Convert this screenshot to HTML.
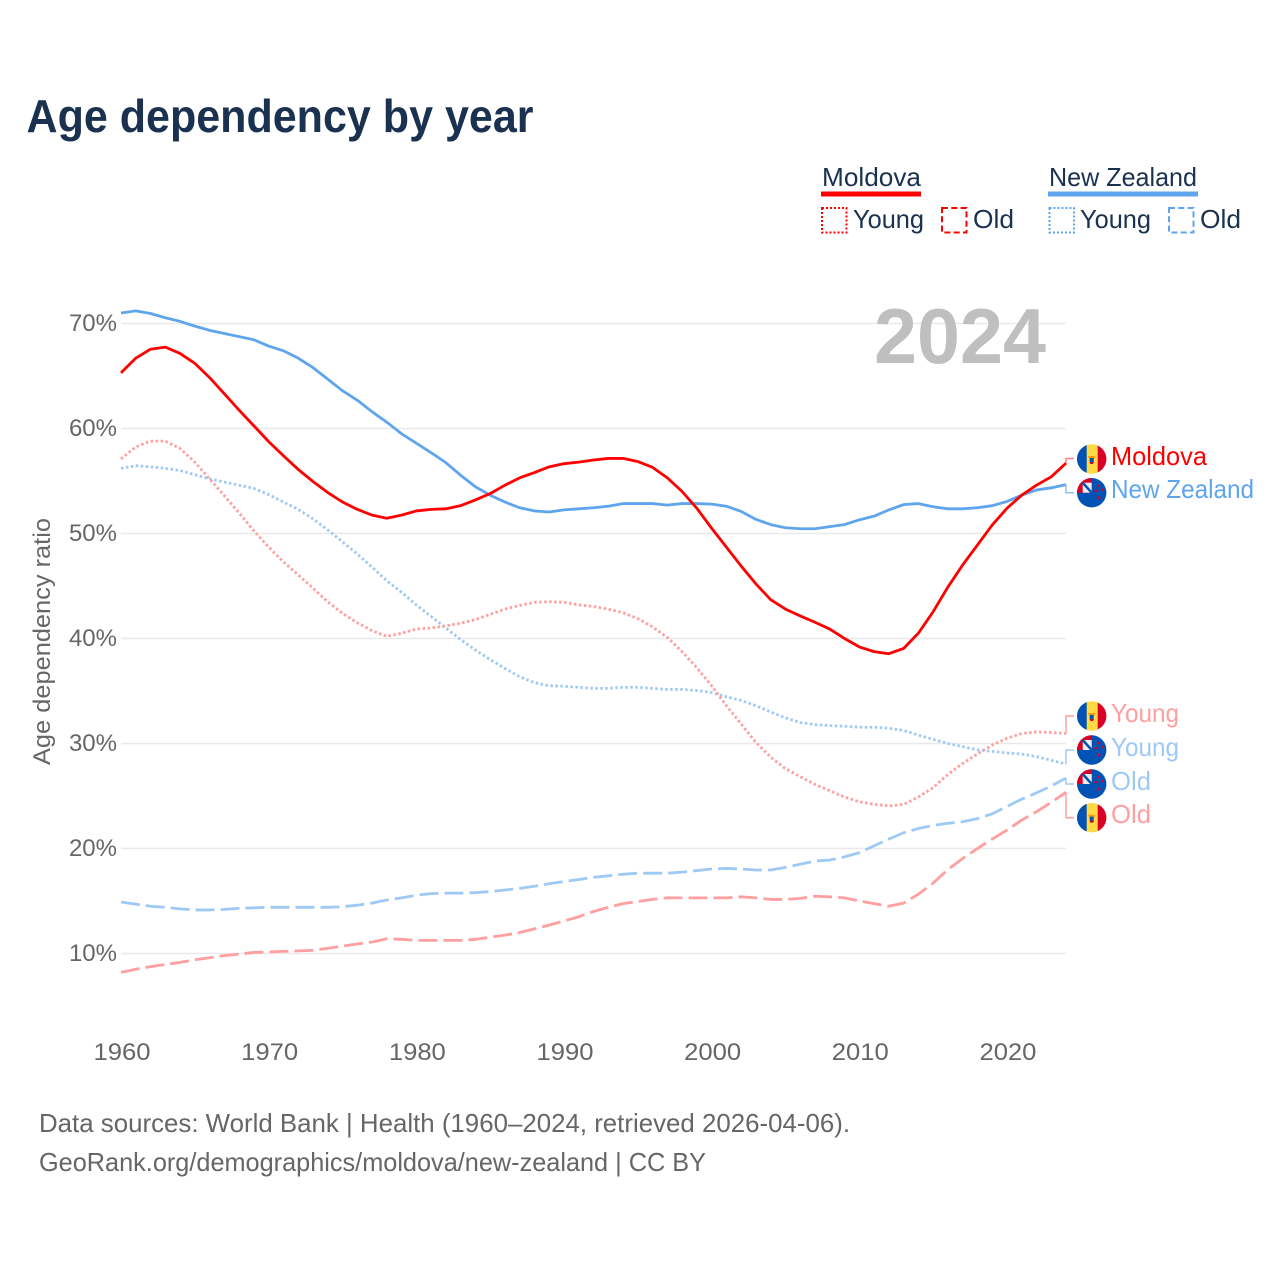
<!DOCTYPE html>
<html lang="en">
<head>
<meta charset="utf-8">
<title>Age dependency by year</title>
<style>
html,body{margin:0;padding:0;background:#fff;}
svg{display:block;}
text{font-family:"Liberation Sans",sans-serif;}
</style>
</head>
<body>
<svg id="chart" xmlns="http://www.w3.org/2000/svg" width="1280" height="1280" viewBox="0 0 1280 1280">
  <defs>
    <clipPath id="flag-clip"><circle cx="0" cy="0" r="14.7"/></clipPath>
    <g id="flag-md" clip-path="url(#flag-clip)">
      <rect x="-15" y="-15" width="30" height="30" fill="#ffda44"/>
      <rect x="-15" y="-15" width="10" height="30" fill="#0052b4"/>
      <rect x="6" y="-15" width="10" height="30" fill="#d80027"/>
      <path d="M-4,-3 L4,-3 L2,0 L-2,0 Z" fill="#ff9811"/>
      <rect x="-2" y="-1" width="4" height="5" fill="#0052b4"/>
      <rect x="-1.5" y="3" width="3" height="2" fill="#d80027"/>
    </g>
    <g id="flag-nz" clip-path="url(#flag-clip)">
      <rect x="-15" y="-15" width="30" height="30" fill="#0052b4"/>
      <rect x="-15" y="-15" width="15" height="15" fill="#d80027"/>
      <rect x="-9" y="-10" width="9" height="10" fill="#f0f0f0"/>
      <path d="M-9,-10 L0,0" stroke="#0052b4" stroke-width="2.5"/>
      <circle cx="7" cy="-7" r="1.3" fill="#d80027"/>
      <circle cx="11" cy="-3" r="1.3" fill="#d80027"/>
      <circle cx="4" cy="-2" r="1.3" fill="#d80027"/>
      <circle cx="7" cy="5" r="1.6" fill="#d80027"/>
    </g>
  </defs>

  <text x="26.5" y="132" font-size="46" font-weight="700" fill="#1a3150" textLength="507" lengthAdjust="spacingAndGlyphs">Age dependency by year</text>

  <g>
    <g>
      <text x="822" y="186" font-size="26" fill="#1a3150" textLength="99" lengthAdjust="spacingAndGlyphs">Moldova</text>
      <rect x="821" y="191.5" width="100" height="5" fill="#ff0000"/>
      <rect x="822" y="208" width="24.5" height="24.5" fill="none" stroke="#ff0000" stroke-width="2" stroke-dasharray="2 2"/>
      <text x="853" y="228" font-size="26" fill="#1a3150" textLength="71" lengthAdjust="spacingAndGlyphs">Young</text>
      <rect x="942" y="208" width="24.5" height="24.5" fill="none" stroke="#ff0000" stroke-width="2" stroke-dasharray="6 3.3"/>
      <text x="973" y="228" font-size="26" fill="#1a3150" textLength="41" lengthAdjust="spacingAndGlyphs">Old</text>
    </g>
    <g>
      <text x="1049" y="186" font-size="26" fill="#1a3150" textLength="148" lengthAdjust="spacingAndGlyphs">New Zealand</text>
      <rect x="1048" y="191.5" width="150" height="5" fill="#5fa5ee"/>
      <rect x="1049.5" y="208" width="24.5" height="24.5" fill="none" stroke="#5fa5ee" stroke-width="2" stroke-dasharray="2 2"/>
      <text x="1080" y="228" font-size="26" fill="#1a3150" textLength="71" lengthAdjust="spacingAndGlyphs">Young</text>
      <rect x="1169" y="208" width="24.5" height="24.5" fill="none" stroke="#5fa5ee" stroke-width="2" stroke-dasharray="6 3.3"/>
      <text x="1200" y="228" font-size="26" fill="#1a3150" textLength="41" lengthAdjust="spacingAndGlyphs">Old</text>
    </g>
  </g>

  <g id="grid"></g>
  <g id="y-ticks"></g>
  <g id="x-ticks"></g>
  <text transform="translate(50,765) rotate(-90)" x="0" y="0" font-size="24" fill="#666666" textLength="247" lengthAdjust="spacingAndGlyphs">Age dependency ratio</text>
  <text x="874" y="363" font-size="78" font-weight="700" fill="#bfbfbf" textLength="172" lengthAdjust="spacingAndGlyphs">2024</text>

  <g id="series"></g>
  <g id="connectors"></g>

  <g>
    <use href="#flag-md" x="1091.7" y="459"/>
    <text x="1111" y="465" font-size="26" fill="#ff0000" textLength="96" lengthAdjust="spacingAndGlyphs">Moldova</text>
    <use href="#flag-nz" x="1091.7" y="492.7"/>
    <text x="1111" y="498" font-size="26" fill="#5fa5ee" textLength="143" lengthAdjust="spacingAndGlyphs">New Zealand</text>
    <use href="#flag-md" x="1091.7" y="716"/>
    <text x="1111" y="722" font-size="26" fill="#ff9f9f" textLength="68" lengthAdjust="spacingAndGlyphs">Young</text>
    <use href="#flag-nz" x="1091.7" y="750"/>
    <text x="1111" y="756" font-size="26" fill="#9fc9f5" textLength="68" lengthAdjust="spacingAndGlyphs">Young</text>
    <use href="#flag-nz" x="1091.7" y="784"/>
    <text x="1111" y="790" font-size="26" fill="#9fc9f5" textLength="40" lengthAdjust="spacingAndGlyphs">Old</text>
    <use href="#flag-md" x="1091.7" y="817.7"/>
    <text x="1111" y="823" font-size="26" fill="#ff9f9f" textLength="40" lengthAdjust="spacingAndGlyphs">Old</text>
  </g>

  <text x="39" y="1132" font-size="26" fill="#666666" textLength="811" lengthAdjust="spacingAndGlyphs">Data sources: World Bank | Health (1960–2024, retrieved 2026-04-06).</text>
  <text x="39" y="1171" font-size="26" fill="#666666" textLength="667" lengthAdjust="spacingAndGlyphs">GeoRank.org/demographics/moldova/new-zealand | CC BY</text>
</svg>

<script>
const startYear = 1960;
const endYear = 2024;
const yTickValues = [10, 20, 30, 40, 50, 60, 70];
const xTickValues = [1960, 1970, 1980, 1990, 2000, 2010, 2020];

const moldovaTotal = [
  65.3,66.7,67.55,67.75,67.15,66.2,64.85,63.3,61.75,60.25,
  58.75,57.4,56.1,54.95,53.9,53.0,52.3,51.75,51.45,51.75,
  52.15,52.3,52.35,52.65,53.2,53.8,54.6,55.3,55.8,56.35,
  56.65,56.8,57.0,57.15,57.15,56.85,56.3,55.3,54.0,52.4,
  50.5,48.7,46.9,45.2,43.7,42.8,42.15,41.55,40.9,40.0,
  39.2,38.75,38.55,39.05,40.5,42.55,44.9,47.0,48.9,50.8,
  52.4,53.65,54.6,55.4,56.7
];
const newZealandTotal = [
  71.0,71.2,70.95,70.55,70.2,69.75,69.35,69.05,68.75,68.45,
  67.85,67.4,66.7,65.8,64.7,63.6,62.7,61.6,60.6,59.5,
  58.6,57.7,56.75,55.55,54.45,53.65,53.0,52.45,52.15,52.05,
  52.25,52.35,52.45,52.6,52.85,52.85,52.85,52.7,52.85,52.85,
  52.8,52.6,52.1,51.35,50.85,50.55,50.45,50.45,50.65,50.85,
  51.3,51.65,52.25,52.75,52.85,52.55,52.35,52.35,52.45,52.65,
  53.05,53.65,54.15,54.35,54.65
];
const moldovaYoung = [
  57.1,58.25,58.8,58.8,58.1,56.8,55.2,53.6,51.95,50.25,
  48.7,47.3,46.05,44.8,43.5,42.4,41.5,40.75,40.2,40.5,
  40.9,41.0,41.2,41.45,41.8,42.3,42.8,43.15,43.45,43.5,
  43.45,43.2,43.05,42.8,42.45,41.9,41.1,40.1,38.75,37.2,
  35.5,33.6,31.85,30.1,28.7,27.6,26.85,26.1,25.5,24.9,
  24.45,24.2,24.05,24.2,24.9,25.8,27.05,28.1,29.0,29.85,
  30.5,30.95,31.1,31.05,30.95
];
const newZealandYoung = [
  56.2,56.45,56.35,56.2,56.0,55.6,55.2,54.9,54.6,54.3,
  53.7,53.0,52.3,51.4,50.35,49.2,48.05,46.8,45.5,44.4,
  43.2,42.1,41.0,39.9,38.9,38.0,37.15,36.35,35.8,35.5,
  35.45,35.35,35.25,35.25,35.35,35.35,35.25,35.15,35.15,35.05,
  34.85,34.45,34.1,33.6,33.0,32.45,32.0,31.8,31.7,31.65,
  31.55,31.55,31.45,31.25,30.8,30.4,30.0,29.7,29.4,29.25,
  29.1,29.0,28.75,28.4,28.05
];
const moldovaOld = [
  8.2,8.5,8.75,8.95,9.15,9.4,9.6,9.8,9.95,10.1,
  10.15,10.2,10.25,10.3,10.5,10.7,10.9,11.1,11.4,11.35,
  11.25,11.25,11.25,11.25,11.35,11.55,11.75,12.0,12.35,12.7,
  13.1,13.5,14.0,14.4,14.75,14.95,15.15,15.3,15.3,15.3,
  15.3,15.3,15.4,15.3,15.15,15.15,15.25,15.45,15.4,15.3,
  15.0,14.75,14.5,14.8,15.65,16.7,18.0,19.05,20.0,20.9,
  21.75,22.7,23.5,24.4,25.35
];
const newZealandOld = [
  14.9,14.7,14.5,14.4,14.25,14.15,14.15,14.2,14.3,14.35,
  14.4,14.4,14.4,14.4,14.4,14.45,14.6,14.8,15.1,15.3,
  15.55,15.7,15.75,15.75,15.8,15.9,16.05,16.2,16.4,16.65,
  16.85,17.05,17.25,17.4,17.55,17.65,17.65,17.65,17.75,17.9,
  18.05,18.1,18.05,17.95,17.95,18.2,18.5,18.8,18.9,19.2,
  19.6,20.25,20.9,21.5,21.9,22.2,22.4,22.55,22.85,23.3,
  24.0,24.7,25.3,25.95,26.7
];

const plotLeft = 121, plotRight = 1066;
const SVG_NS = 'http://www.w3.org/2000/svg';
function xScale(year) { return plotLeft + (year - startYear) * (plotRight - plotLeft) / (endYear - startYear); }
function yScale(value) { return 953.5 - (value - 10) * 10.5; }
function make(tag, parent, attrs) {
  const el = document.createElementNS(SVG_NS, tag);
  Object.keys(attrs).forEach(function (k) { el.setAttribute(k, attrs[k]); });
  parent.appendChild(el);
  return el;
}

const gridLayer = document.getElementById('grid');
const yLayer = document.getElementById('y-ticks');
yTickValues.forEach(function (v) {
  const line = make('line', gridLayer, { x1: plotLeft, x2: plotRight, y1: yScale(v), y2: yScale(v), stroke: '#e9e9e9', 'stroke-width': 1.5 });
  
  
  const label = make('text', yLayer, { x: 117, y: yScale(v) + 7.5, 'text-anchor': 'end', 'font-size': 24, fill: '#666666' });
  
  
  label.textContent = v + '%';
});

const xLayer = document.getElementById('x-ticks');
xTickValues.forEach(function (year) {
  const label = make('text', xLayer, { x: xScale(year) + 1, y: 1060, 'text-anchor': 'middle', 'font-size': 24, fill: '#666666', textLength: 57, lengthAdjust: 'spacingAndGlyphs' });
  
  
  label.textContent = year;
});

function pathFor(values) {
  return values.map(function (v, i) {
    return (i ? 'L' : 'M') + xScale(startYear + i).toFixed(2) + ',' + yScale(v).toFixed(2);
  }).join(' ');
}

const seriesLayer = document.getElementById('series');
const connectorLayer = document.getElementById('connectors');
function drawSeries(name, values, color, width, dash, connectorColor, labelY) {
  const line = make('path', seriesLayer, { d: pathFor(values), fill: 'none', stroke: color, 'stroke-width': width, 'stroke-linejoin': 'round' });
  if (dash) { line.setAttribute('stroke-dasharray', dash); }
  
  
  const endX = xScale(endYear);
  const endY = yScale(values[values.length - 1]);
  const connector = make('path', connectorLayer, { d: 'M' + endX + ',' + endY + ' V' + labelY + ' H' + (endX + 8), fill: 'none', stroke: connectorColor, 'stroke-width': 1.5 });
  
  
}

drawSeries('new-zealand-old', newZealandOld, '#9fc9f5', 2.8, '19 6', '#9fc9f5', 784);
drawSeries('moldova-old', moldovaOld, '#ff9f9f', 2.8, '19 6', '#ff9f9f', 817.7);
drawSeries('new-zealand-young', newZealandYoung, '#9fc9f5', 2.8, '2.5 2.5', '#9fc9f5', 750);
drawSeries('moldova-young', moldovaYoung, '#ff9f9f', 2.8, '2.5 2.5', '#ff9f9f', 716);
drawSeries('new-zealand-total', newZealandTotal, '#5fa5ee', 2.8, '', '#8fc0f3', 492.7);
drawSeries('moldova-total', moldovaTotal, '#ff0000', 2.8, '', '#ff8080', 458.5);
</script>
</body>
</html>
